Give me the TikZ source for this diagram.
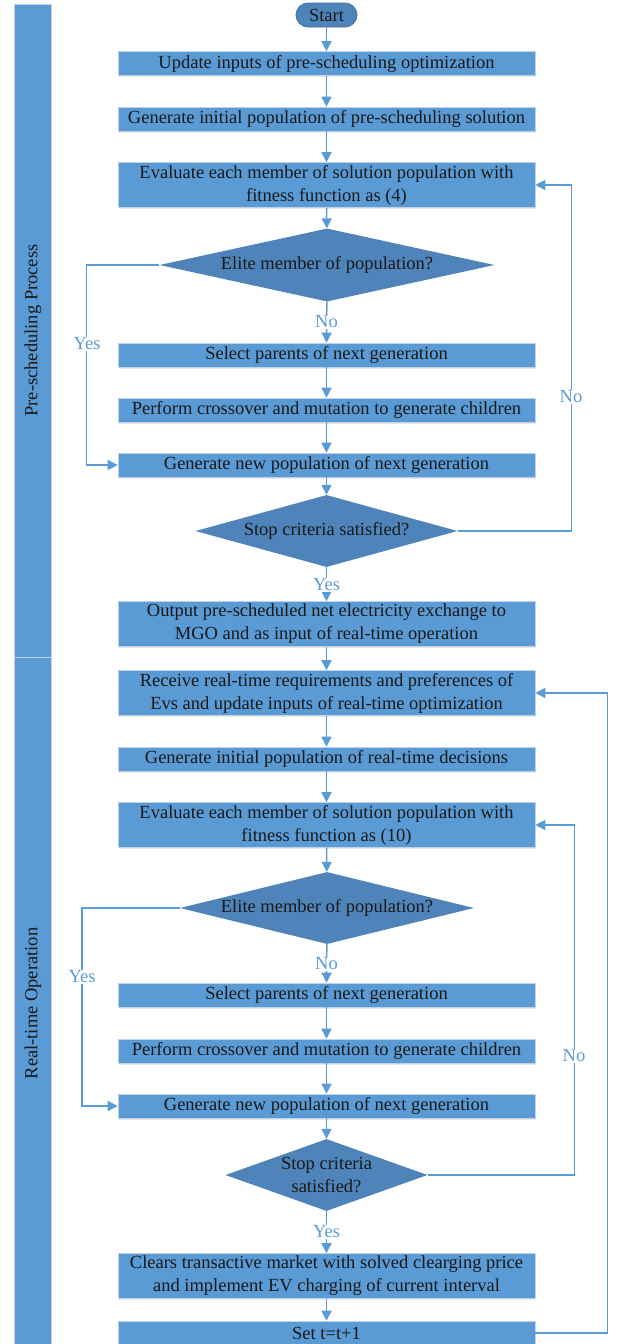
\documentclass[tikz,border=0pt]{standalone}
\usepackage{fontspec}
\setmainfont{Liberation Serif}
\usetikzlibrary{arrows.meta,shapes.geometric,shadows}
\definecolor{boxblue}{RGB}{91,155,213}
\definecolor{darkblue}{RGB}{78,132,186}
\definecolor{edgeblue}{RGB}{65,113,156}
\definecolor{lightedge}{RGB}{190,210,232}
\definecolor{textgray}{RGB}{25,25,25}

\begin{document}
\begin{tikzpicture}[x=1pt,y=-1pt,
  every node/.style={font=\fontsize{18.5}{23}\selectfont, text=textgray},
  procbox/.style={rectangle, fill=boxblue, draw=lightedge, line width=0.6pt, minimum width=417pt, minimum height=24pt, inner sep=1pt, align=center, drop shadow={opacity=0.18, shadow xshift=1pt, shadow yshift=-1.5pt}},
  tallbox/.style={procbox, minimum height=45pt},
  decbox/.style={diamond, fill=darkblue, inner sep=-4pt, aspect=4.6, align=center},
  startbox/.style={rectangle, rounded corners=12pt, fill=darkblue, draw=edgeblue, line width=0.8pt, minimum width=61pt, minimum height=24pt, inner sep=0pt},
  lanebox/.style={rectangle, fill=boxblue, draw=lightedge, line width=0.8pt, minimum height=37pt, inner sep=0pt},
  answer/.style={text=boxblue, fill=white, inner sep=1pt},
  flow/.style={draw=boxblue, line width=1.5pt, -{Triangle[length=10pt,width=10pt]}},
  link/.style={draw=boxblue, line width=1.5pt}]
\useasboundingbox (0,0) rectangle (618,1344);

% swim lanes
\node[lanebox, rotate=90, minimum width=653pt] (lanepre) at (33,330.5) {Pre-scheduling Process};
\node[lanebox, rotate=90, minimum width=693pt] (lanereal) at (33,1003.5) {Real-time Operation};

% pre-scheduling
\node[startbox] (start) at (326.5,15) {Start};
\node[procbox] (upd1) at (326.5,63.5) {Update inputs of pre-scheduling optimization};
\node[procbox] (init1) at (326.5,119) {Generate initial population of pre-scheduling solution};
\node[tallbox] (eval1) at (326.5,185) {Evaluate each member of solution population with\\fitness function as (4)};
\node[decbox, minimum width=335pt, minimum height=73pt] (elite1) at (327,265) {Elite member of population?};
\node[procbox] (sel1) at (326.5,355) {Select parents of next generation};
\node[procbox] (cross1) at (326.5,410) {Perform crossover and mutation to generate children};
\node[procbox] (newpop1) at (326.5,465) {Generate new population of next generation};
\node[decbox, minimum width=262pt, minimum height=72pt] (stop1) at (326.5,531) {Stop criteria satisfied?};
\node[tallbox] (out1) at (326.5,624) {Output pre-scheduled net electricity exchange to\\MGO and as input of real-time operation};

% real-time
\node[tallbox] (recv) at (326.5,693) {Receive real-time requirements and preferences of\\Evs and update inputs of real-time optimization};
\node[procbox] (init2) at (326.5,759) {Generate initial population of real-time decisions};
\node[tallbox] (eval2) at (326.5,825) {Evaluate each member of solution population with\\fitness function as (10)};
\node[decbox, minimum width=294pt, minimum height=72pt] (elite2) at (327,908) {Elite member of population?};
\node[procbox] (sel2) at (326.5,995) {Select parents of next generation};
\node[procbox] (cross2) at (326.5,1051) {Perform crossover and mutation to generate children};
\node[procbox] (newpop2) at (326.5,1106) {Generate new population of next generation};
\node[decbox, minimum width=202pt, minimum height=72pt, aspect=2.8, inner sep=-10pt] (stop2) at (326.5,1175) {Stop criteria\\satisfied?};
\node[tallbox] (clear) at (326.5,1276) {Clears transactive market with solved clearging price\\and implement EV charging of current interval};
\node[procbox] (sett) at (326.5,1333) {Set t=t+1};

% straight flow
\draw[flow] (start) -- (upd1);
\draw[flow] (upd1) -- (init1);
\draw[flow] (init1) -- (eval1);
\draw[flow] (eval1) -- (elite1);
\draw[flow] (elite1) -- (sel1);
\draw[flow] (sel1) -- (cross1);
\draw[flow] (cross1) -- (newpop1);
\draw[flow] (newpop1) -- (stop1);
\draw[flow] (stop1) -- (out1);
\draw[flow] (out1) -- (recv);
\draw[flow] (recv) -- (init2);
\draw[flow] (init2) -- (eval2);
\draw[flow] (eval2) -- (elite2);
\draw[flow] (elite2) -- (sel2);
\draw[flow] (sel2) -- (cross2);
\draw[flow] (cross2) -- (newpop2);
\draw[flow] (newpop2) -- (stop2);
\draw[flow] (stop2) -- (clear);
\draw[flow] (clear) -- (sett);

% loops
\draw[flow] (elite1.west) -- ++(-73,0) |- (newpop1.west);
\draw[flow] (stop1.east) -- ++(114,0) |- (eval1.east);
\draw[flow] (elite2.west) -- ++(-98,0) |- (newpop2.west);
\draw[flow] (stop2.east) -- ++(147,0) |- (eval2.east);
\draw[flow] (sett.east) -- ++(72,0) |- (recv.east);

% answers
\node[answer] (no1) at (326.5,322) {No};
\node[answer] (yes1) at (87,344) {Yes};
\node[answer] (no2) at (571,397) {No};
\node[answer] (yes2) at (326.5,585) {Yes};
\node[answer] (no3) at (326.5,964) {No};
\node[answer] (yes3) at (82,977) {Yes};
\node[answer] (no4) at (574,1056) {No};
\node[answer] (yes4) at (326.5,1232) {Yes};

\end{tikzpicture}
\end{document}
